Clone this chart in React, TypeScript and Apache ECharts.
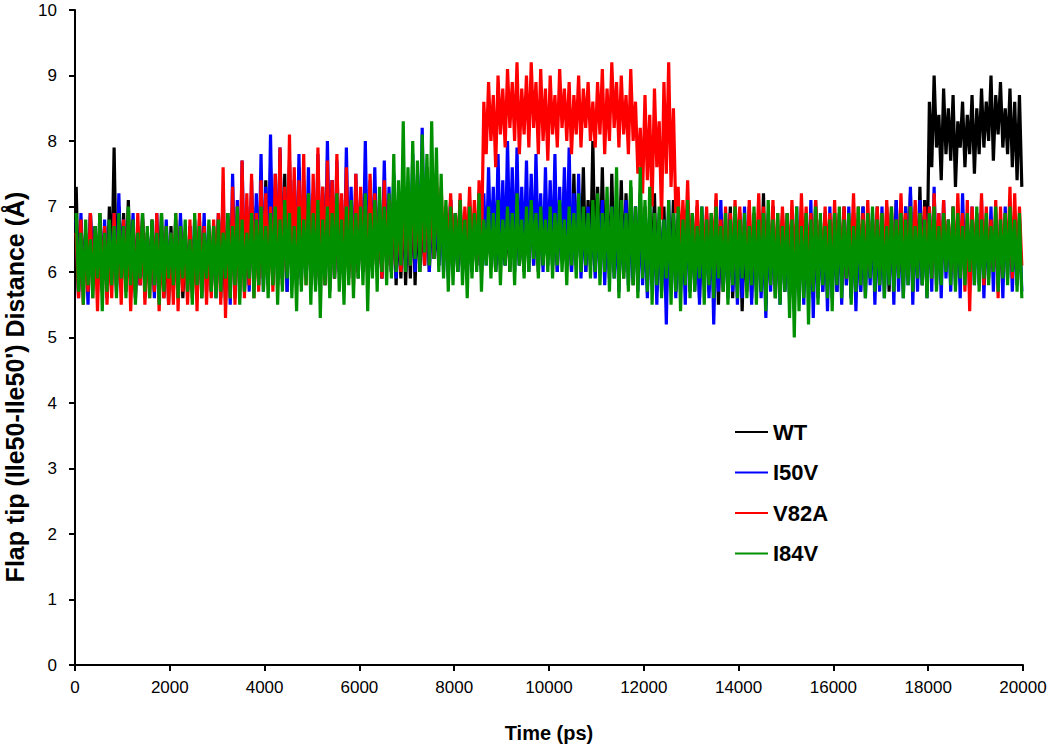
import React, { useEffect, useRef } from "react";
import * as echarts from "echarts";

// Bin width (ps) of the digitised envelopes: each bin holds the high and low excursion
const BIN = 100;
const xTicks = [0, 2000, 4000, 6000, 8000, 10000, 12000, 14000, 16000, 18000, 20000];
const seriesNames = ["WT", "I50V", "V82A", "I84V"];
const seriesColors = ["#000000", "#0000ff", "#ff0000", "#009000"];

const wtHi = [
  7.3,6.8,6.6,6.9,6.7,6.9,6.7,7.0,7.9,7.0,
  6.9,7.1,6.8,6.7,6.9,6.6,6.8,6.7,6.9,6.6,
  6.7,6.6,6.8,6.5,6.7,6.6,6.8,6.7,6.5,6.7,
  6.8,6.6,6.9,7.0,6.8,7.1,6.9,7.2,7.0,7.3,
  7.4,7.6,7.3,7.8,7.5,7.7,7.2,7.6,7.4,7.0,
  7.2,6.9,7.3,7.0,7.4,7.1,6.9,7.3,7.0,7.2,
  7.1,7.4,7.0,7.3,6.9,7.2,7.0,7.1,6.9,7.2,
  7.0,7.3,7.1,6.9,7.2,7.0,6.8,7.0,6.9,7.1,
  6.9,7.1,6.8,7.0,6.9,7.2,7.0,6.8,7.1,6.9,
  7.0,6.9,7.2,7.0,6.8,7.1,7.3,6.9,7.0,7.2,
  7.1,7.4,7.0,7.3,6.9,7.5,7.2,7.6,7.1,8.0,
  7.3,7.6,7.1,7.5,7.0,7.4,7.2,7.3,7.0,7.2,
  7.0,6.9,7.2,6.8,7.0,6.9,7.1,6.8,6.9,7.0,
  6.8,7.0,6.7,6.9,6.8,7.1,6.9,6.7,7.0,6.8,
  6.9,6.7,7.0,6.8,6.9,7.2,6.8,7.0,6.7,6.9,
  6.8,6.9,6.7,7.0,6.8,6.9,7.1,6.8,6.9,6.7,
  6.9,6.8,7.0,6.7,6.9,6.8,7.0,6.9,6.8,7.0,
  6.8,7.0,6.9,7.1,6.8,7.0,7.2,6.9,7.3,7.1,
  8.6,9.0,8.4,8.8,8.5,8.7,8.3,8.6,8.4,8.7,
  8.5,8.8,8.6,9.0,8.7,8.9,8.5,8.8,8.6,8.7,
];
const wtLo = [
  5.7,5.9,5.8,6.0,5.8,5.9,5.7,5.9,5.8,6.0,
  5.8,5.9,5.7,5.8,5.6,5.8,5.7,5.9,5.6,5.5,
  5.7,5.8,5.6,5.9,5.7,5.8,5.6,5.9,5.7,5.8,
  5.6,5.5,5.8,5.6,5.9,5.7,5.8,6.0,5.8,5.9,
  5.9,5.8,6.0,5.9,5.7,5.9,6.0,5.8,5.9,6.0,
  5.8,6.0,5.9,5.7,5.9,6.0,5.8,5.9,6.1,5.9,
  6.0,5.9,6.1,6.0,5.9,6.1,6.0,5.8,5.9,5.8,
  5.9,5.8,6.0,6.1,6.0,6.2,6.1,6.2,6.1,6.2,
  6.0,6.1,6.0,6.2,6.1,6.0,6.2,6.1,6.0,6.1,
  6.1,6.0,6.2,6.1,6.0,6.2,6.1,6.0,6.1,6.2,
  6.1,6.0,6.2,6.1,6.0,6.1,6.2,6.0,6.1,6.0,
  6.0,6.1,5.9,6.0,6.1,5.9,6.0,5.8,5.9,6.0,
  5.8,5.9,5.7,5.8,5.6,5.9,5.7,5.8,5.9,5.7,
  5.8,5.6,5.9,5.7,5.8,5.5,5.7,5.9,5.6,5.8,
  5.4,5.7,5.6,5.8,5.7,5.5,5.8,5.6,5.9,5.7,
  5.8,5.6,5.9,5.7,5.8,5.6,5.9,5.7,5.8,5.9,
  5.7,5.9,5.8,5.6,5.9,5.7,5.8,5.9,5.7,5.8,
  5.9,5.7,5.8,6.0,5.8,5.9,5.7,5.9,5.8,6.0,
  7.6,7.9,7.4,7.8,7.7,7.3,7.9,7.6,7.8,7.5,
  7.8,7.9,8.0,7.7,8.1,7.9,7.8,7.6,7.4,7.3,
];

const i50vHi = [
  6.8,6.9,6.5,6.9,6.7,6.6,6.8,6.7,6.9,7.2,
  6.8,6.7,6.9,6.6,6.8,6.5,6.7,6.9,6.6,6.8,
  6.6,6.8,6.9,6.5,6.7,6.8,6.6,6.9,6.7,6.6,
  6.9,7.2,6.8,7.5,7.1,7.7,7.0,7.4,7.2,7.8,
  7.3,8.1,7.5,7.9,7.2,7.6,7.4,7.8,7.3,7.6,
  7.0,7.8,7.2,8.0,7.4,7.7,7.1,7.9,7.3,7.5,
  7.2,8.0,7.4,7.6,7.1,7.7,7.3,7.5,7.0,7.4,
  7.3,7.8,7.5,8.2,7.6,7.3,7.1,7.0,6.9,7.1,
  6.9,7.0,6.8,7.1,6.9,7.0,7.2,7.6,7.3,7.8,
  7.4,8.0,7.6,7.9,7.3,7.7,7.5,7.8,7.2,7.6,
  7.4,7.8,7.3,7.6,7.9,7.2,7.5,6.9,7.0,6.8,
  6.9,7.1,6.8,7.0,6.7,6.9,7.1,6.8,7.0,6.9,
  6.8,7.0,6.7,6.9,6.8,7.1,6.7,6.9,6.8,7.0,
  6.9,6.7,7.0,6.8,6.9,6.7,7.1,6.8,6.9,6.7,
  6.8,7.0,6.7,6.9,6.8,6.6,6.9,7.0,6.7,6.8,
  6.9,6.7,7.0,6.8,6.9,7.1,6.8,6.7,6.9,7.0,
  6.7,6.9,6.8,7.0,6.9,6.7,7.0,6.8,6.9,6.7,
  7.0,6.8,6.9,7.1,6.8,7.0,7.3,7.0,7.1,6.9,
  7.0,7.3,6.9,7.1,6.8,7.0,6.9,7.2,6.8,7.0,
  6.9,7.1,6.8,7.0,6.9,6.8,7.0,6.9,6.7,6.8,
];
const i50vLo = [
  5.6,5.8,5.5,5.9,5.7,5.8,5.6,5.9,5.7,5.8,
  5.7,5.9,5.6,5.8,5.7,5.9,5.6,5.8,5.7,5.9,
  5.8,5.6,5.9,5.7,5.8,5.6,5.9,5.7,5.8,5.6,
  5.9,5.7,5.5,5.8,5.6,5.9,5.7,5.8,5.9,5.7,
  5.8,6.0,5.8,5.9,5.7,6.0,5.8,5.9,6.0,5.8,
  5.9,6.0,5.8,6.1,5.9,6.0,5.8,6.1,5.9,6.0,
  6.0,5.9,6.1,6.0,5.9,6.1,6.0,5.9,6.1,6.0,
  6.1,6.0,6.2,6.1,6.0,6.2,6.1,6.0,5.9,6.0,
  6.0,6.1,5.9,6.0,6.1,6.0,6.1,6.2,6.0,6.1,
  6.1,6.2,6.0,6.1,6.2,6.0,6.1,6.2,6.0,6.1,
  6.1,6.0,6.2,6.1,6.0,6.1,5.9,6.0,6.1,5.9,
  6.0,5.8,6.0,5.9,5.7,6.0,5.8,5.9,5.7,5.8,
  5.6,5.8,5.5,5.7,5.2,5.8,5.6,5.7,5.5,5.8,
  5.7,5.5,5.8,5.6,5.2,5.7,5.8,5.6,5.7,5.5,
  5.6,5.8,5.5,5.7,5.6,5.3,5.7,5.8,5.5,5.7,
  5.6,5.4,5.7,5.5,5.8,5.3,5.6,5.7,5.4,5.6,
  5.7,5.5,5.8,5.6,5.4,5.7,5.6,5.8,5.5,5.7,
  5.6,5.8,5.5,5.7,5.6,5.8,5.5,5.7,5.8,5.6,
  5.7,5.8,5.6,5.9,5.7,5.8,5.6,5.9,5.7,5.8,
  5.8,5.6,5.9,5.7,5.8,5.6,5.9,5.7,5.8,5.7,
];

const v82aHi = [
  6.6,6.8,6.5,6.9,6.6,6.8,6.7,6.5,6.9,6.6,
  6.8,6.7,6.5,6.9,6.8,6.6,6.7,6.9,6.5,6.7,
  6.6,6.9,6.7,6.5,6.8,6.6,6.9,6.7,6.6,6.8,
  6.9,7.6,6.8,7.3,7.0,7.7,7.2,7.5,6.9,7.4,
  7.2,7.0,7.5,7.9,7.3,8.1,7.6,7.4,7.8,7.2,
  7.5,7.9,7.3,7.7,7.4,7.8,7.2,7.6,7.0,7.5,
  7.3,7.1,7.5,7.2,7.0,7.4,7.1,7.3,7.0,7.2,
  7.1,7.4,7.0,7.3,7.6,7.2,7.5,7.3,7.0,7.2,
  6.9,7.2,7.0,7.3,7.1,7.4,8.6,8.9,8.7,9.0,
  8.8,9.1,8.9,9.2,8.8,9.0,9.2,8.9,9.1,8.8,
  9.0,8.7,9.1,8.8,8.9,8.7,9.0,8.8,8.9,8.6,
  8.9,9.1,8.8,9.2,8.9,9.0,8.7,9.1,8.6,8.2,
  8.7,8.4,8.8,8.3,8.9,9.2,8.5,7.3,7.1,7.4,
  6.9,7.1,6.8,7.0,6.9,7.2,6.8,7.0,6.9,7.1,
  7.0,6.8,7.1,6.9,7.2,7.0,6.8,7.1,6.9,7.0,
  6.9,7.1,6.8,7.2,7.0,6.9,7.1,6.8,7.0,6.9,
  7.1,6.9,7.0,6.8,7.2,7.0,6.9,7.1,6.8,7.0,
  6.9,7.1,7.0,6.8,7.2,6.9,7.0,7.1,6.9,7.0,
  7.0,7.2,6.9,7.1,6.8,7.0,7.2,6.9,7.1,7.0,
  6.9,7.2,7.0,6.8,7.1,7.0,6.9,7.3,7.2,7.0,
];
const v82aLo = [
  5.6,5.5,5.7,5.6,5.4,5.7,5.5,5.6,5.8,5.5,
  5.7,5.4,5.6,5.8,5.5,5.6,5.7,5.4,5.6,5.5,
  5.5,5.4,5.7,5.5,5.6,5.4,5.7,5.5,5.6,5.8,
  5.5,5.3,5.6,5.5,5.7,5.6,5.8,5.6,5.7,5.9,
  5.8,5.7,5.9,5.8,6.0,5.8,5.9,6.0,5.8,5.9,
  5.9,6.0,5.8,6.0,5.9,6.1,5.9,6.0,5.8,6.0,
  6.0,5.9,6.1,6.0,5.9,6.1,6.0,6.1,6.0,6.2,
  6.1,6.3,6.2,6.1,6.3,6.2,6.4,6.3,6.2,6.3,
  6.2,6.1,6.3,6.2,6.1,6.3,7.8,8.0,7.6,8.1,
  7.9,8.2,8.0,7.8,8.1,7.9,8.2,7.8,8.0,7.7,
  8.1,7.9,8.2,8.0,7.8,8.1,7.9,8.2,8.0,7.9,
  8.1,7.8,8.0,8.2,7.9,8.1,7.8,8.0,7.5,7.2,
  7.4,7.0,7.6,6.8,7.5,7.3,6.9,6.2,6.3,6.1,
  6.0,6.2,6.1,5.9,6.2,6.0,6.1,5.9,6.0,6.2,
  6.1,5.9,6.0,6.2,5.9,6.0,6.1,5.8,6.0,6.1,
  6.0,6.2,5.9,6.1,6.0,5.8,6.1,6.0,6.2,5.9,
  6.1,6.0,5.9,6.2,6.0,6.1,5.9,6.0,6.1,6.0,
  6.0,6.1,5.9,6.0,6.2,6.0,5.9,6.1,6.0,6.1,
  5.9,6.1,6.0,6.2,6.0,5.9,6.1,5.7,5.4,6.1,
  6.0,5.8,6.1,6.0,5.6,6.0,6.1,5.9,6.0,6.1,
];

const i84vHi = [
  6.9,6.6,6.8,6.5,6.7,6.9,6.6,6.8,6.7,6.9,
  6.7,7.0,6.8,6.6,6.9,6.7,6.8,6.6,6.9,6.7,
  6.6,6.9,6.7,6.8,6.5,6.9,6.7,6.6,6.8,6.7,
  6.8,6.6,6.9,6.7,7.0,6.8,6.6,6.9,6.8,7.0,
  6.7,6.9,7.0,6.8,7.1,6.9,6.7,7.0,6.8,7.2,
  6.9,7.1,6.8,7.0,6.9,7.2,6.8,7.0,7.1,6.9,
  7.0,7.2,6.9,7.1,7.3,7.0,7.2,7.8,7.4,8.3,
  7.6,8.0,7.7,8.1,7.8,8.3,7.9,7.5,7.1,7.0,
  6.9,7.1,6.8,7.0,6.9,7.2,6.8,7.0,6.9,7.1,
  6.8,7.0,6.9,7.2,6.8,7.0,7.1,6.9,7.0,6.8,
  7.0,6.9,7.1,6.8,7.0,6.9,7.2,7.0,6.9,7.1,
  7.2,6.9,7.3,7.0,7.6,7.1,6.9,7.4,7.0,7.6,
  7.1,7.3,6.9,7.0,6.8,7.1,6.9,7.0,6.8,7.1,
  6.9,6.7,7.0,6.8,6.9,7.0,6.7,6.9,6.8,7.0,
  6.8,6.9,6.7,7.0,6.8,6.9,7.1,6.8,6.9,6.7,
  6.9,6.8,7.0,6.7,6.9,6.8,7.0,6.9,6.7,6.8,
  6.9,7.0,6.8,6.9,6.7,7.0,6.8,6.9,7.0,6.8,
  6.9,6.7,7.0,6.8,6.9,6.8,7.0,6.7,6.9,6.8,
  6.9,7.0,6.7,6.9,6.8,7.0,6.9,6.7,6.9,6.8,
  7.0,6.8,6.9,6.7,7.0,6.8,6.9,7.0,6.8,6.9,
];
const i84vLo = [
  5.7,5.5,5.8,5.6,5.9,5.4,5.7,5.8,5.6,5.9,
  5.6,5.8,5.5,5.9,5.7,5.6,5.8,5.5,5.7,5.9,
  5.8,5.6,5.9,5.7,5.5,5.8,5.6,5.9,5.7,5.6,
  5.7,5.9,5.6,5.8,5.5,5.7,5.9,5.6,5.8,5.7,
  5.6,5.8,5.5,5.7,5.9,5.6,5.4,5.7,5.8,5.5,
  5.7,5.3,5.8,5.6,5.9,5.7,5.5,5.8,5.6,5.9,
  5.8,5.4,5.9,5.7,6.0,5.8,5.9,6.0,6.1,6.0,
  6.1,6.2,6.0,6.3,6.1,6.2,6.0,5.9,5.7,5.8,
  6.0,5.8,5.6,5.9,6.0,5.7,6.1,5.9,6.0,5.8,
  6.1,6.0,5.8,6.1,5.9,6.0,6.2,5.9,6.1,6.0,
  5.9,6.1,6.0,5.8,6.1,5.9,6.0,6.1,5.9,6.0,
  5.8,6.0,5.7,5.9,5.6,5.9,5.7,5.8,5.6,5.9,
  5.7,5.5,5.8,5.6,5.9,5.5,5.7,5.4,5.8,5.6,
  5.7,5.9,5.5,5.8,5.6,5.9,5.7,5.5,5.8,5.6,
  5.9,5.6,5.8,5.5,5.7,5.4,5.8,5.6,5.5,5.7,
  5.3,5.0,5.4,5.6,5.2,5.7,5.5,5.8,5.6,5.4,
  5.8,5.6,5.9,5.5,5.7,5.8,5.6,5.9,5.7,5.8,
  5.6,5.8,5.7,5.9,5.6,5.8,5.7,5.9,5.8,5.6,
  5.9,5.7,5.8,6.0,5.8,5.7,5.9,5.8,6.0,5.8,
  5.7,5.9,5.8,6.0,5.7,5.9,5.8,6.0,5.7,5.6,
];

const highs = [wtHi, i50vHi, v82aHi, i84vHi];
const lows = [wtLo, i50vLo, v82aLo, i84vLo];

// Each bin contributes its high excursion then its low excursion, in time order
function traceOf(hi: number[], lo: number[]): [number, number][] {
  const out: [number, number][] = [];
  for (let i = 0; i < hi.length; i++) {
    out.push([i * BIN + BIN * 0.25, hi[i]]);
    out.push([i * BIN + BIN * 0.75, lo[i]]);
  }
  return out;
}

const FONT = "'Liberation Sans', Arial, sans-serif";

export default function App() {
  const ref = useRef<HTMLDivElement>(null);
  useEffect(() => {
    if (!ref.current) return;
    const chart = echarts.init(ref.current, undefined, { renderer: "svg" });
    chart.setOption({
      animation: false,
      backgroundColor: "#ffffff",
      grid: { left: 75, right: 27, top: 10, bottom: 78, containLabel: false },
      legend: {
        orient: "vertical",
        left: 729,
        top: 416,
        itemWidth: 33,
        itemHeight: 24,
        itemGap: 18.5,
        data: seriesNames,
        itemStyle: { opacity: 0 },
        lineStyle: { width: 2 },
        textStyle: { fontFamily: FONT, fontWeight: "bold", fontSize: 22, color: "#000", padding: [2, 0, 0, 0] },
      },
      xAxis: {
        type: "value",
        min: 0,
        max: 20000,
        interval: 2000,
        name: "Time (ps)",
        nameLocation: "middle",
        nameGap: 58,
        nameTextStyle: { fontFamily: FONT, fontWeight: "bold", fontSize: 20, color: "#000" },
        axisLine: { lineStyle: { color: "#000", width: 2 } },
        axisTick: { length: 6, lineStyle: { color: "#000", width: 2 } },
        splitLine: { show: false },
        axisLabel: {
          fontFamily: FONT,
          fontSize: 17,
          color: "#000",
          margin: 14,
          formatter: (v: number) => (xTicks.includes(v) ? String(v) : ""),
        },
      },
      yAxis: {
        type: "value",
        min: 0,
        max: 10,
        interval: 1,
        axisLine: { show: true, lineStyle: { color: "#000", width: 2 } },
        axisTick: { show: true, length: 6, lineStyle: { color: "#000", width: 2 } },
        splitLine: { show: false },
        axisLabel: { fontFamily: FONT, fontSize: 17, color: "#000", margin: 18 },
      },
      graphic: [
        {
          type: "text",
          x: 15,
          y: 387,
          rotation: Math.PI / 2,
          style: {
            text: "Flap tip (Ile50-Ile50') Distance (Å)",
            fontFamily: FONT,
            fontWeight: "bold",
            fontSize: 25,
            fill: "#000",
            align: "center",
            verticalAlign: "middle",
          },
        },
      ],
      series: seriesNames.map((name, k) => ({
        name,
        type: "line",
        data: traceOf(highs[k], lows[k]),
        symbol: "none",
        showSymbol: false,
        color: seriesColors[k],
        lineStyle: { color: seriesColors[k], width: 3.2, join: "bevel" },
        z: 2 + k,
      })),
    });
    return () => chart.dispose();
  }, []);
  return (
    <div
      ref={ref}
      style={{ position: "fixed", left: 0, top: 0, width: 1050, height: 748, background: "#fff" }}
    />
  );
}
